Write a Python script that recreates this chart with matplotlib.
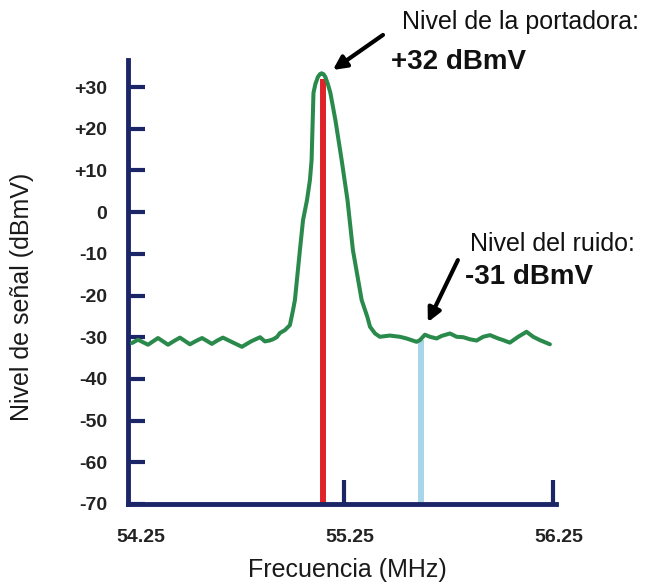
import matplotlib
matplotlib.use("Agg")
import matplotlib.pyplot as plt
import matplotlib.transforms as mtransforms

plt.rcParams["font.family"] = ["Liberation Sans", "DejaVu Sans"]

# spectrum trace (MHz, dBmV)
FREQ = [
    54.234, 54.263, 54.287, 54.311, 54.335, 54.359, 54.383, 54.407, 54.436, 54.464,
    54.488, 54.512, 54.541, 54.570, 54.594, 54.617, 54.643, 54.670, 54.715, 54.761,
    54.805, 54.848, 54.871, 54.893, 54.910, 54.928, 54.943, 54.967, 54.991, 55.006,
    55.015, 55.039, 55.054, 55.073, 55.087, 55.095, 55.099, 55.104, 55.113, 55.125,
    55.135, 55.143, 55.152, 55.161, 55.173, 55.185, 55.209, 55.239, 55.267, 55.293,
    55.335, 55.362, 55.375, 55.399, 55.422, 55.470, 55.518, 55.550, 55.598, 55.614,
    55.638, 55.662, 55.694, 55.718, 55.758, 55.790, 55.822, 55.854, 55.886, 55.917,
    55.950, 55.989, 56.013, 56.045, 56.085, 56.125, 56.157, 56.189, 56.237,
]
LEVEL = [
    -31.4, -30.6, -31.2, -31.8, -31.0, -30.2, -31.0, -31.8, -30.9, -30.1,
    -30.9, -31.7, -30.9, -30.2, -30.9, -31.6, -30.8, -30.1, -31.2, -32.3,
    -31.0, -30.0, -31.0, -30.8, -30.5, -30.0, -29.0, -28.3, -27.1, -23.5,
    -21.1, -9.1, -1.9, 2.9, 7.7, 12.5, 19.7, 28.6, 30.7, 32.4,
    33.1, 33.3, 33.1, 32.4, 30.7, 28.6, 22.1, 12.5, 2.9, -9.1,
    -21.1, -25.1, -27.5, -29.1, -29.9, -29.6, -29.9, -30.3, -31.1, -30.7,
    -29.4, -29.9, -30.3, -29.7, -29.1, -29.9, -30.0, -30.5, -30.8, -29.9,
    -29.5, -30.3, -30.7, -31.3, -29.9, -28.7, -29.9, -30.7, -31.7,
]

CARRIER_FREQ = 55.15
CARRIER_LEVEL = 32
NOISE_FREQ = 55.617
NOISE_LEVEL = -30.7

Y_TICKS = [-70, -60, -50, -40, -30, -20, -10, 0, 10, 20, 30]
Y_LABELS = ["-70", "-60", "-50", "-40", "-30", "-20", "-10", "0", "+10", "+20", "+30"]
X_TICKS = [54.25, 55.25, 56.25]
X_LABELS = ["54.25", "55.25", "56.25"]

NAVY = "#1c2566"
GREEN = "#2a8a4c"
RED = "#e0232a"
CYAN = "#a6d6e8"


def main():
    fig = plt.figure(figsize=(6.46, 5.85), dpi=100)
    ax = fig.add_axes([0.1981, 0.1385, 0.6625, 0.759])

    ymin = -70
    ax.vlines(CARRIER_FREQ, ymin, CARRIER_LEVEL, color=RED, lw=4.3, zorder=2)
    ax.vlines(NOISE_FREQ, ymin, NOISE_LEVEL, color=CYAN, lw=4.3, zorder=2)
    ax.plot(FREQ, LEVEL, color=GREEN, lw=2.9, zorder=3,
            solid_joinstyle="round", solid_capstyle="round")

    ax.set_xlim(54.215, 56.266)
    ax.set_ylim(ymin, 36.5)

    for side in ("top", "right"):
        ax.spines[side].set_visible(False)
    for side in ("left", "bottom"):
        ax.spines[side].set_color(NAVY)
        ax.spines[side].set_linewidth(3.5)

    ax.set_yticks(Y_TICKS, Y_LABELS)
    ax.set_xticks(X_TICKS, X_LABELS)
    ax.tick_params(axis="y", direction="in", length=12, width=3, color=NAVY, pad=15,
                   labelsize=14, labelcolor="#222222")
    ax.tick_params(axis="x", direction="in", length=17, width=3, color=NAVY, pad=18,
                   labelsize=14, labelcolor="#222222")
    for lab in ax.get_xticklabels() + ax.get_yticklabels():
        lab.set_fontweight("bold")
    ax.xaxis.get_major_ticks()[0].tick1line.set_visible(False)
    shift = mtransforms.ScaledTranslation(0.06, 0, fig.dpi_scale_trans)
    for lab in ax.get_xticklabels():
        lab.set_transform(lab.get_transform() + shift)

    ax.set_xlabel("Frecuencia (MHz)", fontsize=18, color="#1a1a1a")
    ax.xaxis.set_label_coords(0.512, -0.149)
    ax.xaxis.label.set_va("center")
    ax.set_ylabel("Nivel de señal (dBmV)", fontsize=18, color="#1a1a1a")
    ax.yaxis.set_label_coords(-0.248, 0.466)
    ax.yaxis.label.set_va("center")

    arrow = dict(arrowstyle="-|>", color="black", lw=3, mutation_scale=20, shrinkA=0, shrinkB=0)
    ax.annotate("", xy=(55.197, 34.1), xytext=(55.437, 42.5), arrowprops=arrow,
                annotation_clip=False)
    ax.annotate("", xy=(55.652, -26.4), xytext=(55.796, -11.5), arrowprops=arrow,
                annotation_clip=False)

    fig.text(0.622, 0.962, "Nivel de la portadora:", fontsize=18, va="center", color="#111111")
    fig.text(0.606, 0.894, "+32 dBmV", fontsize=20, fontweight="bold", va="center", color="#111111")
    fig.text(0.7276, 0.583, "Nivel del ruido:", fontsize=18, va="center", color="#111111")
    fig.text(0.72, 0.526, "-31 dBmV", fontsize=20, fontweight="bold", va="center", color="#111111")

    fig.savefig("out.png", dpi=100)


if __name__ == "__main__":
    main()
